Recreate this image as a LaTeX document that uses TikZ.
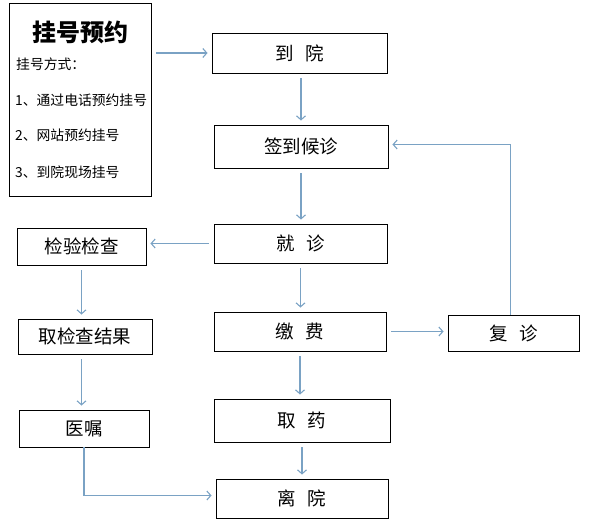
\documentclass[tikz,border=0pt]{standalone}
\usepackage{fontspec}
\setmainfont{Noto Sans CJK SC}
\usetikzlibrary{arrows.meta,positioning}
\definecolor{flowblue}{RGB}{122,162,196}

\begin{document}
\begin{tikzpicture}[x=1pt, y=-1pt, font=\fontsize{18.5}{22}\selectfont,
      box/.style={draw, line width=0.9pt, inner sep=0pt, minimum height=39pt},
      item/.style={anchor=west, inner sep=0pt, font=\fontsize{13.8}{16}\selectfont},
      arr/.style={-{Straight Barb[length=4pt,width=9pt]}, draw=flowblue,
                  line width=1.1pt, shorten <=5pt, shorten >=4pt}
    ]
    \useasboundingbox (0,0) rectangle (596,524);

    \node[box, minimum width=142pt, minimum height=193pt] (reg) at (80,99.5) {};
    \node[inner sep=0pt, font=\fontsize{24}{28}\selectfont\bfseries] (regtitle) at (80,32) {挂号预约};
    \node[item] (way) at (16,64) {挂号方式：};
    \node[item] (way1) at (15,100) {1、通过电话预约挂号};
    \node[item] (way2) at (15,135) {2、网站预约挂号};
    \node[item] (way3) at (15,172) {3、到院现场挂号};

    \node[box, minimum width=175pt, minimum height=40pt] (arrive) at (299.5,53) {到\hspace{0.6em}院};
    \node[box, minimum width=174pt, minimum height=43pt] (checkin) at (301,146.5) {签到候诊};
    \node[box, minimum width=173pt] (visit) at (300.5,243.5) {就\hspace{0.6em}诊};
    \node[box, minimum width=172pt] (pay) at (300,331.5) {缴\hspace{0.6em}费};
    \node[box, minimum width=176pt, minimum height=43pt] (drug) at (302,420.5) {取\hspace{0.6em}药};
    \node[box, minimum width=172pt] (leave) at (302,498.5) {离\hspace{0.6em}院};

    \node[box, minimum width=129pt, minimum height=37pt] (exam) at (81.5,246.5) {检验检查};
    \node[box, minimum width=134pt, minimum height=35pt] (result) at (85,336.5) {取检查结果};
    \node[box, minimum width=130pt, minimum height=37pt] (advice) at (84,428.5) {医嘱};

    \node[box, minimum width=131pt, minimum height=36pt] (revisit) at (513.5,333) {复\hspace{0.6em}诊};

    \draw[arr] (reg.east |- arrive.west) -- (arrive.west);
    \draw[arr] (arrive.south -| checkin.north) -- (checkin.north);
    \draw[arr] (checkin.south) -- (checkin.south |- visit.north);
    \draw[arr] (visit.south) -- (visit.south |- pay.north);
    \draw[arr] (pay.south) -- (pay.south |- drug.north);
    \draw[arr] (drug.south) -- (drug.south |- leave.north);
    \draw[arr] (visit.west) -- (visit.west -| exam.east);
    \draw[arr] (exam.south) -- (exam.south |- result.north);
    \draw[arr] (exam.south |- result.south) -- (exam.south |- advice.north);
    \draw[arr, shorten <=0pt] (advice.south) |- ([yshift=3pt]leave.west);
    \draw[arr] (pay.east) -- (pay.east -| revisit.west);
    \draw[arr, shorten <=0pt] ([xshift=-3pt]revisit.north) |- ([yshift=2pt]checkin.east);
  \end{tikzpicture}
\end{document}
